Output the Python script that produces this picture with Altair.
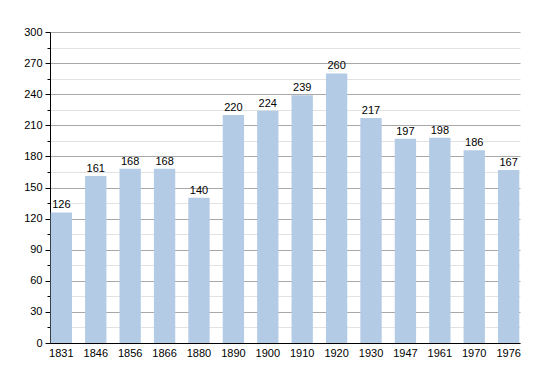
import altair as alt
import pandas as pd

years = ["1831", "1846", "1856", "1866", "1880", "1890", "1900", "1910", "1920", "1930", "1947", "1961", "1970", "1976"]
population = [126, 161, 168, 168, 140, 220, 224, 239, 260, 217, 197, 198, 186, 167]
major_ticks = list(range(0, 301, 30))
minor_ticks = list(range(15, 300, 30))

df = pd.DataFrame({"year": years, "pop": population})

font = "Liberation Sans"
x_enc = alt.X("year:N", sort=years, title=None,
              scale=alt.Scale(paddingInner=0.38, paddingOuter=0.02),
              axis=alt.Axis(labelAngle=0, labelFont=font, labelFontSize=11, labelColor="#000",
                            domainColor="#000", ticks=False, labelPadding=4))
y_scale = alt.Scale(domain=[0, 300], nice=False)

base = alt.Chart(df)

minor = base.mark_bar(color="#b3cbe5").encode(
    x=x_enc,
    y=alt.Y("pop:Q", scale=y_scale, title=None,
            axis=alt.Axis(values=minor_ticks, labels=False, domain=False, orient="left",
                          tickSize=3, tickColor="#000", gridColor="#e2e2e2", grid=True)),
)

major = base.mark_text(dy=-7, font=font, fontSize=11, color="#000").encode(
    x=x_enc,
    y=alt.Y("pop:Q", scale=y_scale, title=None,
            axis=alt.Axis(values=major_ticks, orient="left", domainColor="#000",
                          tickColor="#000", tickSize=5, gridColor="#a8a8a8", grid=True,
                          labelFont=font, labelFontSize=11, labelColor="#000", labelPadding=3)),
    text="pop:Q",
)

chart = alt.layer(minor, major).resolve_axis(y="independent").properties(
    width=470, height=311,
    padding={"left": 42, "top": 24, "right": 20, "bottom": 22},
    autosize=alt.AutoSizeParams(type="none"),
).configure_view(stroke=None).configure_axis(gridWidth=1)

chart.save("out.html", embed_options={"renderer": "svg", "actions": False})
